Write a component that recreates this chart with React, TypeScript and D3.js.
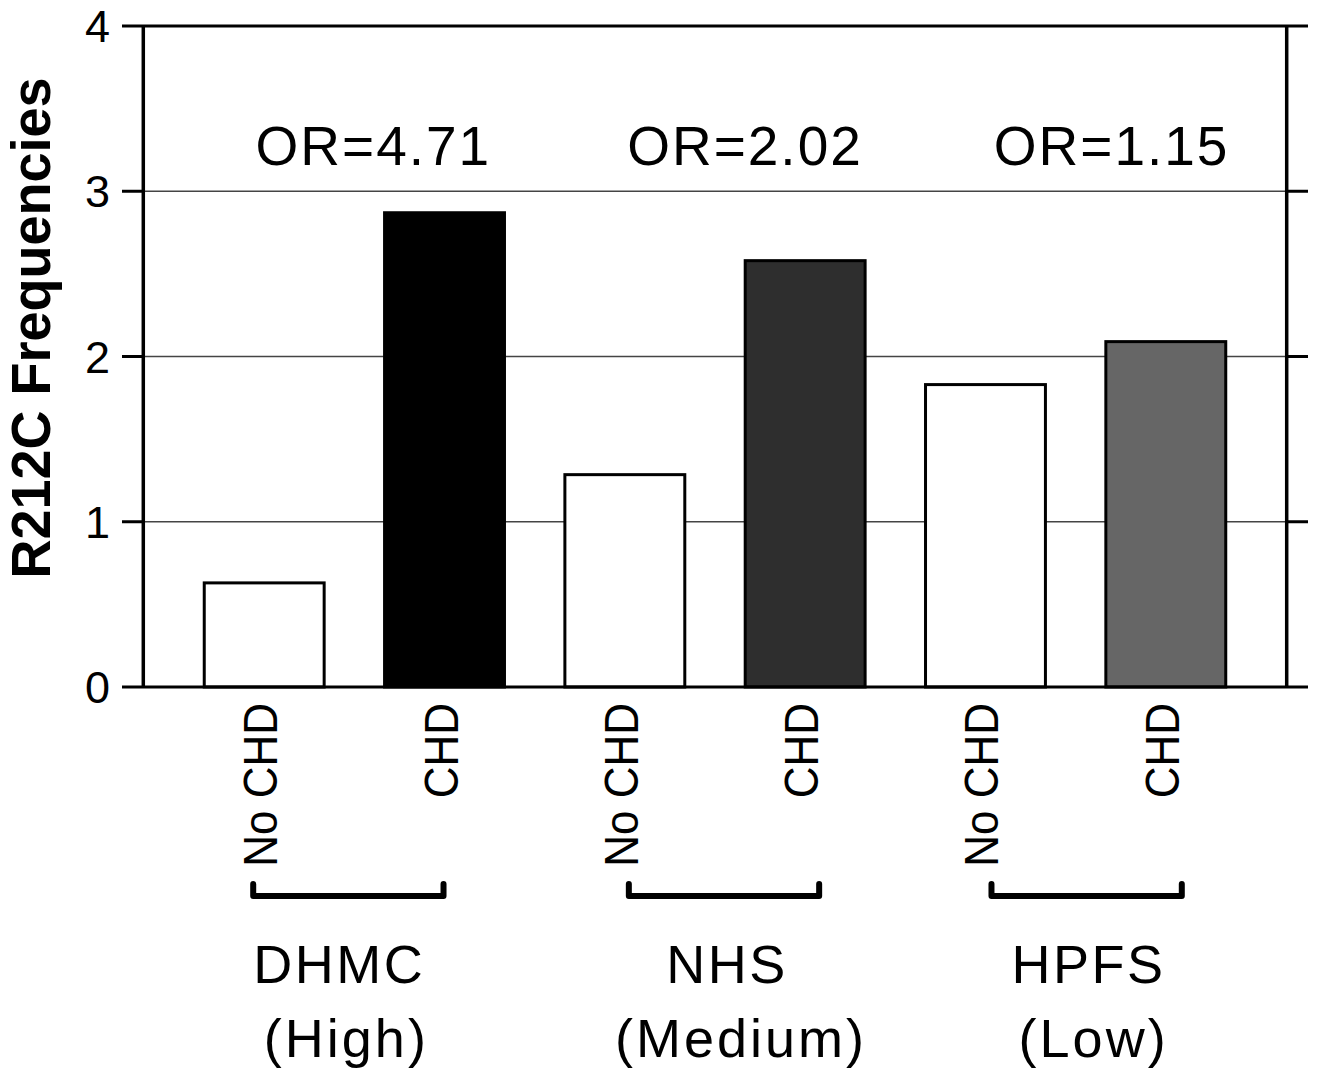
import React from 'react';
import * as d3 from 'd3';

// values
const groups = ['DHMC', 'NHS', 'HPFS'];
const groupLevels = ['(High)', '(Medium)', '(Low)'];
const oddsRatios = ['OR=4.71', 'OR=2.02', 'OR=1.15'];
const barLabels = ['No CHD', 'CHD'];
const noChdValues = [0.63, 1.285, 1.83];
const chdValues = [2.87, 2.58, 2.09];
const chdFills = ['#000000', '#2e2e2e', '#666666'];
const yTicks = [0, 1, 2, 3, 4];

const width = 1319;
const height = 1075;
const left = 143.3;
const right = 1286.7;
const top = 26;
const bottom = 687;
const font = '"Liberation Sans", Arial, Helvetica, sans-serif';

// small hand nudges to sit the texts where the original has them
const orNudge = [19, 30, 36];
const nameNudge = [-15, 12, 13];
const levelNudge = [-8, 26, 18];
const bracketNudge = [-11, 4, 6];

export default function App() {
  const bars = groups.flatMap((g, i) => [
    { key: `${g}-0`, group: i, label: barLabels[0], value: noChdValues[i], fill: '#ffffff' },
    { key: `${g}-1`, group: i, label: barLabels[1], value: chdValues[i], fill: chdFills[i] },
  ]);

  const x = d3.scaleBand()
    .domain(bars.map(d => d.key))
    .range([left, right])
    .paddingInner(0.335)
    .paddingOuter(0.338);

  const y = d3.scaleLinear().domain([0, 4]).range([bottom, top]);

  const center = (k: string) => (x(k) as number) + x.bandwidth() / 2;

  return (
    <svg width={width} height={height} style={{ position: 'absolute', left: 0, top: 0, background: '#fff' }}
      fontFamily={font}>
      {/* grid lines */}
      {yTicks.filter(t => t > 0 && t < 4).map(t => (
        <line key={'g' + t} x1={left} x2={right} y1={y(t)} y2={y(t)} stroke="#444" strokeWidth={1.3} />
      ))}

      {/* bars */}
      {bars.map(d => (
        <rect key={d.key} x={x(d.key)} y={y(d.value)} width={x.bandwidth()} height={y(0) - y(d.value)}
          fill={d.fill} stroke="#000" strokeWidth={3} />
      ))}

      {/* frame: top and bottom lines run past both axes like ticks */}
      {[0, 4].map(t => (
        <line key={'f' + t} x1={122} x2={1308} y1={y(t)} y2={y(t)} stroke="#000" strokeWidth={3} />
      ))}
      {yTicks.filter(t => t > 0 && t < 4).map(t => (
        <g key={'t' + t}>
          <line x1={122} x2={left} y1={y(t)} y2={y(t)} stroke="#000" strokeWidth={3} />
          <line x1={right} x2={1308} y1={y(t)} y2={y(t)} stroke="#000" strokeWidth={3} />
        </g>
      ))}
      <line x1={left} x2={left} y1={top} y2={bottom} stroke="#000" strokeWidth={3.5} />
      <line x1={right} x2={right} y1={top} y2={bottom} stroke="#000" strokeWidth={3.5} />

      {/* y tick labels */}
      {yTicks.map(t => (
        <text key={'l' + t} x={110} y={y(t)} dy="0.36em" textAnchor="end" fontSize={45} fill="#000">{t}</text>
      ))}

      {/* y title */}
      <text transform={`translate(50,${(78 + 578) / 2}) rotate(-90) scale(1,1.04)`} textAnchor="middle"
        fontSize={54} fontWeight="bold" fill="#000">R212C Frequencies</text>

      {/* OR labels */}
      {groups.map((g, i) => {
        const c = (center(`${g}-0`) + center(`${g}-1`)) / 2;
        return (
          <text key={'or' + g} x={c + orNudge[i]} y={165} textAnchor="middle" fontSize={55}
            letterSpacing={2} fill="#000">{oddsRatios[i]}</text>
        );
      })}

      {/* rotated bar labels */}
      {bars.map(d => (
        <text key={'bl' + d.key} transform={`translate(${center(d.key) + 13},703) rotate(-90) scale(1,1.08)`}
          textAnchor="end" fontSize={44} fill="#000">{d.label}</text>
      ))}

      {/* brackets and group names */}
      {groups.map((g, i) => {
        const c1 = center(`${g}-0`) + bracketNudge[i];
        const c2 = center(`${g}-1`) + 10 + bracketNudge[i];
        const c = (center(`${g}-0`) + center(`${g}-1`)) / 2;
        return (
          <g key={'grp' + g}>
            <path d={`M${c1},884 V896 H${c2} V884`} fill="none" stroke="#000" strokeWidth={6}
              strokeLinecap="round" strokeLinejoin="round" />
            <text x={c + nameNudge[i]} y={983} textAnchor="middle" fontSize={54} letterSpacing={2.5}
              fill="#000">{g}</text>
            <text x={c + levelNudge[i]} y={1057} textAnchor="middle" fontSize={54} letterSpacing={3}
              fill="#000">{groupLevels[i]}</text>
          </g>
        );
      })}
    </svg>
  );
}
